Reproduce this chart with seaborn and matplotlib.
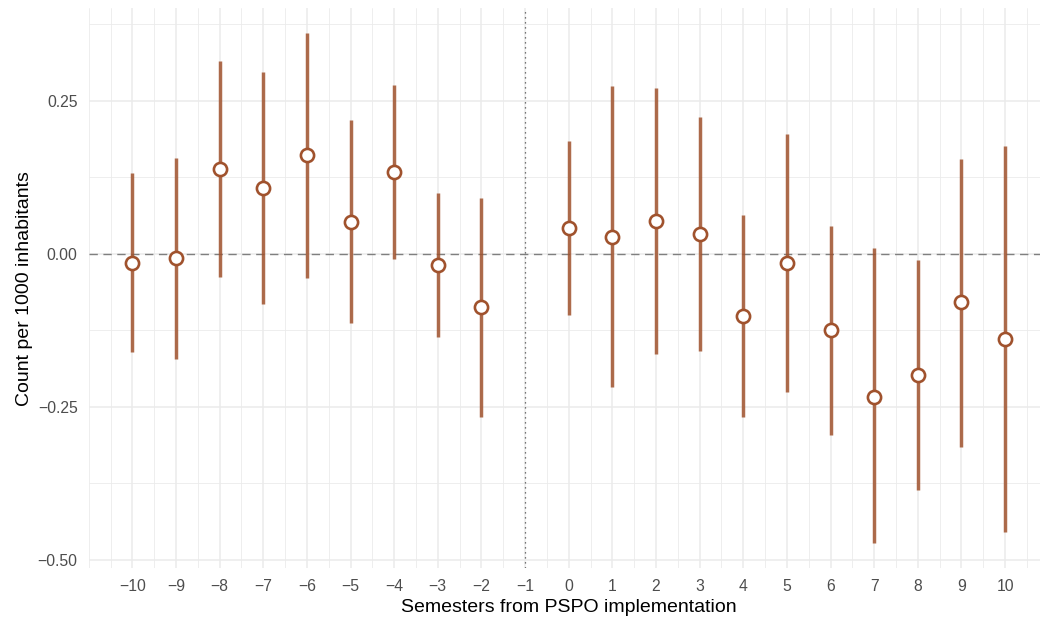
import numpy as np
import pandas as pd
import matplotlib
matplotlib.use("Agg")
import matplotlib.pyplot as plt
import seaborn as sns
from matplotlib.ticker import MultipleLocator, FixedLocator, FuncFormatter

# Dados
semestres = [-10, -9, -8, -7, -6, -5, -4, -3, -2, 0, 1, 2, 3, 4, 5, 6, 7, 8, 9, 10]
estimativa = [-0.014, -0.007, 0.139, 0.108, 0.161, 0.053, 0.134, -0.018, -0.087,
              0.042, 0.028, 0.054, 0.033, -0.101, -0.014, -0.124, -0.233, -0.197, -0.079, -0.139]
inferior = [-0.160, -0.172, -0.037, -0.081, -0.040, -0.113, -0.008, -0.135, -0.267,
            -0.100, -0.218, -0.164, -0.158, -0.266, -0.225, -0.295, -0.473, -0.386, -0.315, -0.455]
superior = [0.132, 0.157, 0.315, 0.298, 0.361, 0.219, 0.276, 0.100, 0.092,
            0.185, 0.275, 0.272, 0.224, 0.064, 0.196, 0.046, 0.009, -0.009, 0.156, 0.177]
x_ticks = list(range(-10, 11))
y_ticks = [-0.50, -0.25, 0.00, 0.25]

df = pd.DataFrame({"semestre": semestres, "est": estimativa,
                   "lo": inferior, "hi": superior})

sns.set_theme(style="white")
plt.rcParams["font.family"] = ["Liberation Sans", "DejaVu Sans"]

cor = "#A0522D"
fig = plt.figure(figsize=(10.4, 6.22), dpi=100)
ax = fig.add_axes([0.0853, 0.0863, 0.9231, 0.9004])

# Grade estilo theme_minimal
ax.set_axisbelow(True)
ax.xaxis.set_major_locator(FixedLocator(x_ticks))
ax.xaxis.set_minor_locator(MultipleLocator(0.5))
ax.yaxis.set_major_locator(FixedLocator(y_ticks))
ax.yaxis.set_minor_locator(MultipleLocator(0.125))
ax.grid(which="major", color="#EBEBEB", linewidth=1.1)
ax.grid(which="minor", color="#EBEBEB", linewidth=0.6)
for s in ax.spines.values():
    s.set_visible(False)

# Linhas de referência
ax.axhline(0, color="#7F7F7F", linewidth=1.0, linestyle=(0, (6, 4)), zorder=1)
ax.axvline(-1, color="#4D4D4D", linewidth=0.9, linestyle=(0, (1, 3)), zorder=1)

# Intervalos e pontos
ax.vlines(df["semestre"], df["lo"], df["hi"], color=cor, alpha=0.85,
          linewidth=2.5, zorder=2)
sns.scatterplot(data=df, x="semestre", y="est", ax=ax, s=90, color="white",
                edgecolor=cor, linewidth=1.9, zorder=3, legend=False)

ax.set_xlim(-11, 11)
ax.set_ylim(-0.5136, 0.4015)
ax.yaxis.set_major_formatter(FuncFormatter(lambda v, p: f"{v:.2f}".replace("-", "\u2212")))
ax.xaxis.set_major_formatter(FuncFormatter(lambda v, p: f"{int(v)}".replace("-", "\u2212")))
ax.tick_params(which="both", length=0, labelsize=11.3, labelcolor="#4D4D4D")
ax.tick_params(axis="x", pad=8)
ax.tick_params(axis="y", pad=8)

ax.set_xlabel("Semesters from PSPO implementation", fontsize=14, color="black", labelpad=3)
ax.set_ylabel("Count per 1000 inhabitants", fontsize=14, color="black", labelpad=3)

fig.savefig("out.png", dpi=100)
